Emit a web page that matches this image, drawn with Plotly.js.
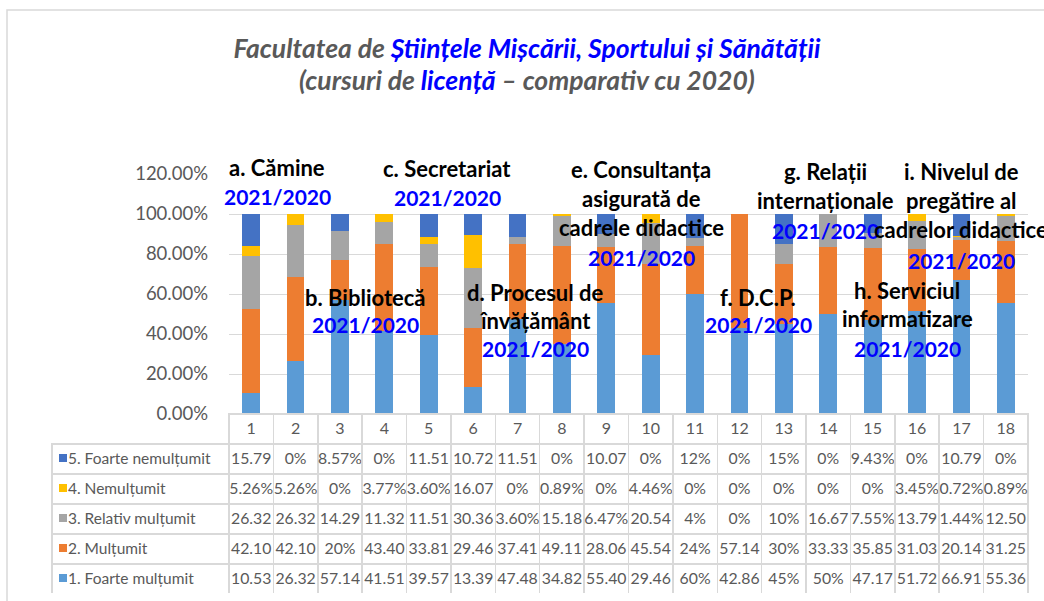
<!DOCTYPE html>
<html>
<head>
<meta charset="utf-8">
<script src="https://cdn.plot.ly/plotly-3.0.1.min.js"></script>
<style>html,body{margin:0;padding:0;background:#fff;}#chart{width:1044px;height:601px;}</style>
</head>
<body>
<div id="chart"></div>
<script>
// ---- data ----
const categories = ['1','2','3','4','5','6','7','8','9','10','11','12','13','14','15','16','17','18'];
const seriesNames = ['1. Foarte mulțumit','2. Mulțumit','3. Relativ mulțumit','4. Nemulțumit','5. Foarte nemulțumit'];
const foarteMultumit   = [10.53,26.32,57.14,41.51,39.57,13.39,47.48,34.82,55.40,29.46,60,42.86,45,50,47.17,51.72,66.91,55.36];
const multumit         = [42.10,42.10,20,43.40,33.81,29.46,37.41,49.11,28.06,45.54,24,57.14,30,33.33,35.85,31.03,20.14,31.25];
const relativMultumit  = [26.32,26.32,14.29,11.32,11.51,30.36,3.60,15.18,6.47,20.54,4,0,10,16.67,7.55,13.79,1.44,12.50];
const nemultumit       = [5.26,5.26,0,3.77,3.60,16.07,0,0.89,0,4.46,0,0,0,0,0,3.45,0.72,0.89];
const foarteNemultumit = [15.79,0,8.57,0,11.51,10.72,11.51,0,10.07,0,12,0,15,0,9.43,0,10.79,0];
const yTickVals = [0,0.2,0.4,0.6,0.8,1.0,1.2];

const W = 1044, H = 601;
const px = x => x / W;
const py = y => 1 - y / H;

const colors = ['#5B9BD5','#ED7D31','#A5A5A5','#FFC000','#4472C4'];
const seriesValues = [foarteMultumit, multumit, relativMultumit, nemultumit, foarteNemultumit];

const traces = seriesValues.map((vals, i) => ({
  type: 'bar',
  name: seriesNames[i],
  x: categories,
  y: vals.map(v => v / 100),
  marker: {color: colors[i]},
  hoverinfo: 'skip',
  showlegend: false
}));

// table text as Excel displays it
function fmt(v) {
  if (Number.isInteger(v)) return v + '%';
  if (v < 10) return v.toFixed(2) + '%';
  return v.toFixed(2);
}
const rowOrder = [4,3,2,1,0]; // top row = series 5
const NB = '\u00A0';
const labelCol = rowOrder.map(i => NB + NB + seriesNames[i]);
const tableValues = [labelCol].concat(categories.map((c, ci) => rowOrder.map(i => fmt(seriesValues[i][ci]))));
const grid = '#D9D9D9';

traces.push({
  type: 'table',
  domain: {x: [px(52), px(1028)], y: [py(594), py(414)]},
  columnwidth: [177].concat(categories.map(() => 44.39)),
  header: {
    values: [''].concat(categories),
    align: 'center',
    height: 30,
    line: {color: ['rgba(255,255,255,0)'].concat(categories.map(() => grid)), width: 1.5},
    fill: {color: ['rgba(255,255,255,0)'].concat(categories.map(() => '#FFFFFF'))},
    font: {family: 'Lato, sans-serif', size: 16, color: '#595959'}
  },
  cells: {
    values: tableValues,
    align: ['left'].concat(categories.map(() => 'center')),
    height: 30,
    line: {color: grid, width: 1.5},
    fill: {color: '#FFFFFF'},
    font: {family: 'Lato, sans-serif', size: [15.5].concat(categories.map(() => 15.8)), color: '#595959'}
  },
  hoverinfo: 'skip'
});

// legend keys in the table label column (small squares)
const shapes = [{
  type: 'rect', xref: 'paper', yref: 'paper',
  x0: px(7), x1: px(1060), y0: py(620), y1: py(10),
  line: {color: grid, width: 1.5}, fillcolor: 'rgba(0,0,0,0)', layer: 'below'
}];
rowOrder.forEach((i, r) => {
  const cy = 458 + r * 30;
  shapes.push({
    type: 'rect', xref: 'paper', yref: 'paper',
    x0: px(59), x1: px(67), y0: py(cy + 4), y1: py(cy - 4),
    line: {width: 0}, fillcolor: colors[i], layer: 'above'
  });
});

const annotations = [];
// second title line
annotations.push({
  xref: 'paper', yref: 'paper', x: px(527), y: py(80),
  xanchor: 'center', yanchor: 'middle', showarrow: false,
  text: '<b><i>(cursuri de <span style="color:#0000FF">licență</span> – comparativ cu 2020)</i></b>',
  font: {family: 'Lato, sans-serif', size: 26.5, color: '#595959'}
});

// category group labels
const groups = [
  {x: 277, y: 168, lines: ['a. Cămine'], year: 197},
  {x: 365, y: 297, lines: ['b. Bibliotecă'], year: 324},
  {x: 447, y: 169, lines: ['c. Secretariat'], year: 198},
  {x: 535, y: 292, lines: ['d. Procesul de','învățământ'], year: 348},
  {x: 641, y: 170, lines: ['e. Consultanța','asigurată de','cadrele didactice'], year: 257},
  {x: 758, y: 297, lines: ['f. D.C.P.'], year: 324},
  {x: 825, y: 172, lines: ['g. Relații','internaționale'], year: 230},
  {x: 907, y: 290, lines: ['h. Serviciul','informatizare'], year: 348},
  {x: 961, y: 172, lines: ['i. Nivelul de','pregătire al','cadrelor didactice'], year: 260}
];
groups.forEach(g => {
  g.lines.forEach((t, k) => {
    annotations.push({
      xref: 'paper', yref: 'paper', x: px(g.x), y: py(g.y + k * 28.5),
      xanchor: 'center', yanchor: 'middle', showarrow: false,
      text: '<b>' + t + '</b>',
      font: {family: 'Lato, sans-serif', size: 22, color: '#000000'}
    });
  });
  annotations.push({
    xref: 'paper', yref: 'paper', x: px(g.x), y: py(g.year),
    xanchor: 'center', yanchor: 'middle', showarrow: false,
    text: '<b>2021/2020</b>',
    font: {family: 'Lato, sans-serif', size: 21, color: '#0000FF'}
  });
});

const layout = {
  width: W, height: H,
  margin: {l: 0, r: 0, t: 0, b: 0},
  paper_bgcolor: '#FFFFFF', plot_bgcolor: '#FFFFFF',
  barmode: 'stack',
  bargap: 0.6,
  showlegend: false,
  title: {
    text: '<b><i>Facultatea de <span style="color:#0000FF">Științele Mișcării, Sportului și Sănătății</span></i></b>',
    x: px(527), xanchor: 'center',
    y: py(49), yanchor: 'middle', xref: 'paper', yref: 'paper',
    font: {family: 'Lato, sans-serif', size: 26.5, color: '#595959'}
  },
  xaxis: {
    domain: [px(229), px(1028)],
    type: 'category',
    showticklabels: false,
    showgrid: false,
    zeroline: false,
    showline: false,
    fixedrange: true
  },
  yaxis: {
    domain: [py(414), py(174)],
    range: [0, 1.2],
    tickvals: yTickVals,
    tickformat: '.2%',
    showgrid: true,
    gridcolor: grid,
    gridwidth: 1,
    zeroline: false,
    showline: false,
    ticks: '',
    ticklabelstandoff: 20,
    tickfont: {family: 'Lato, sans-serif', size: 18.5, color: '#595959'},
    fixedrange: true
  },
  annotations: annotations,
  shapes: shapes
};

Plotly.newPlot('chart', traces, layout, {displayModeBar: false, staticPlot: true});
</script>
</body>
</html>
